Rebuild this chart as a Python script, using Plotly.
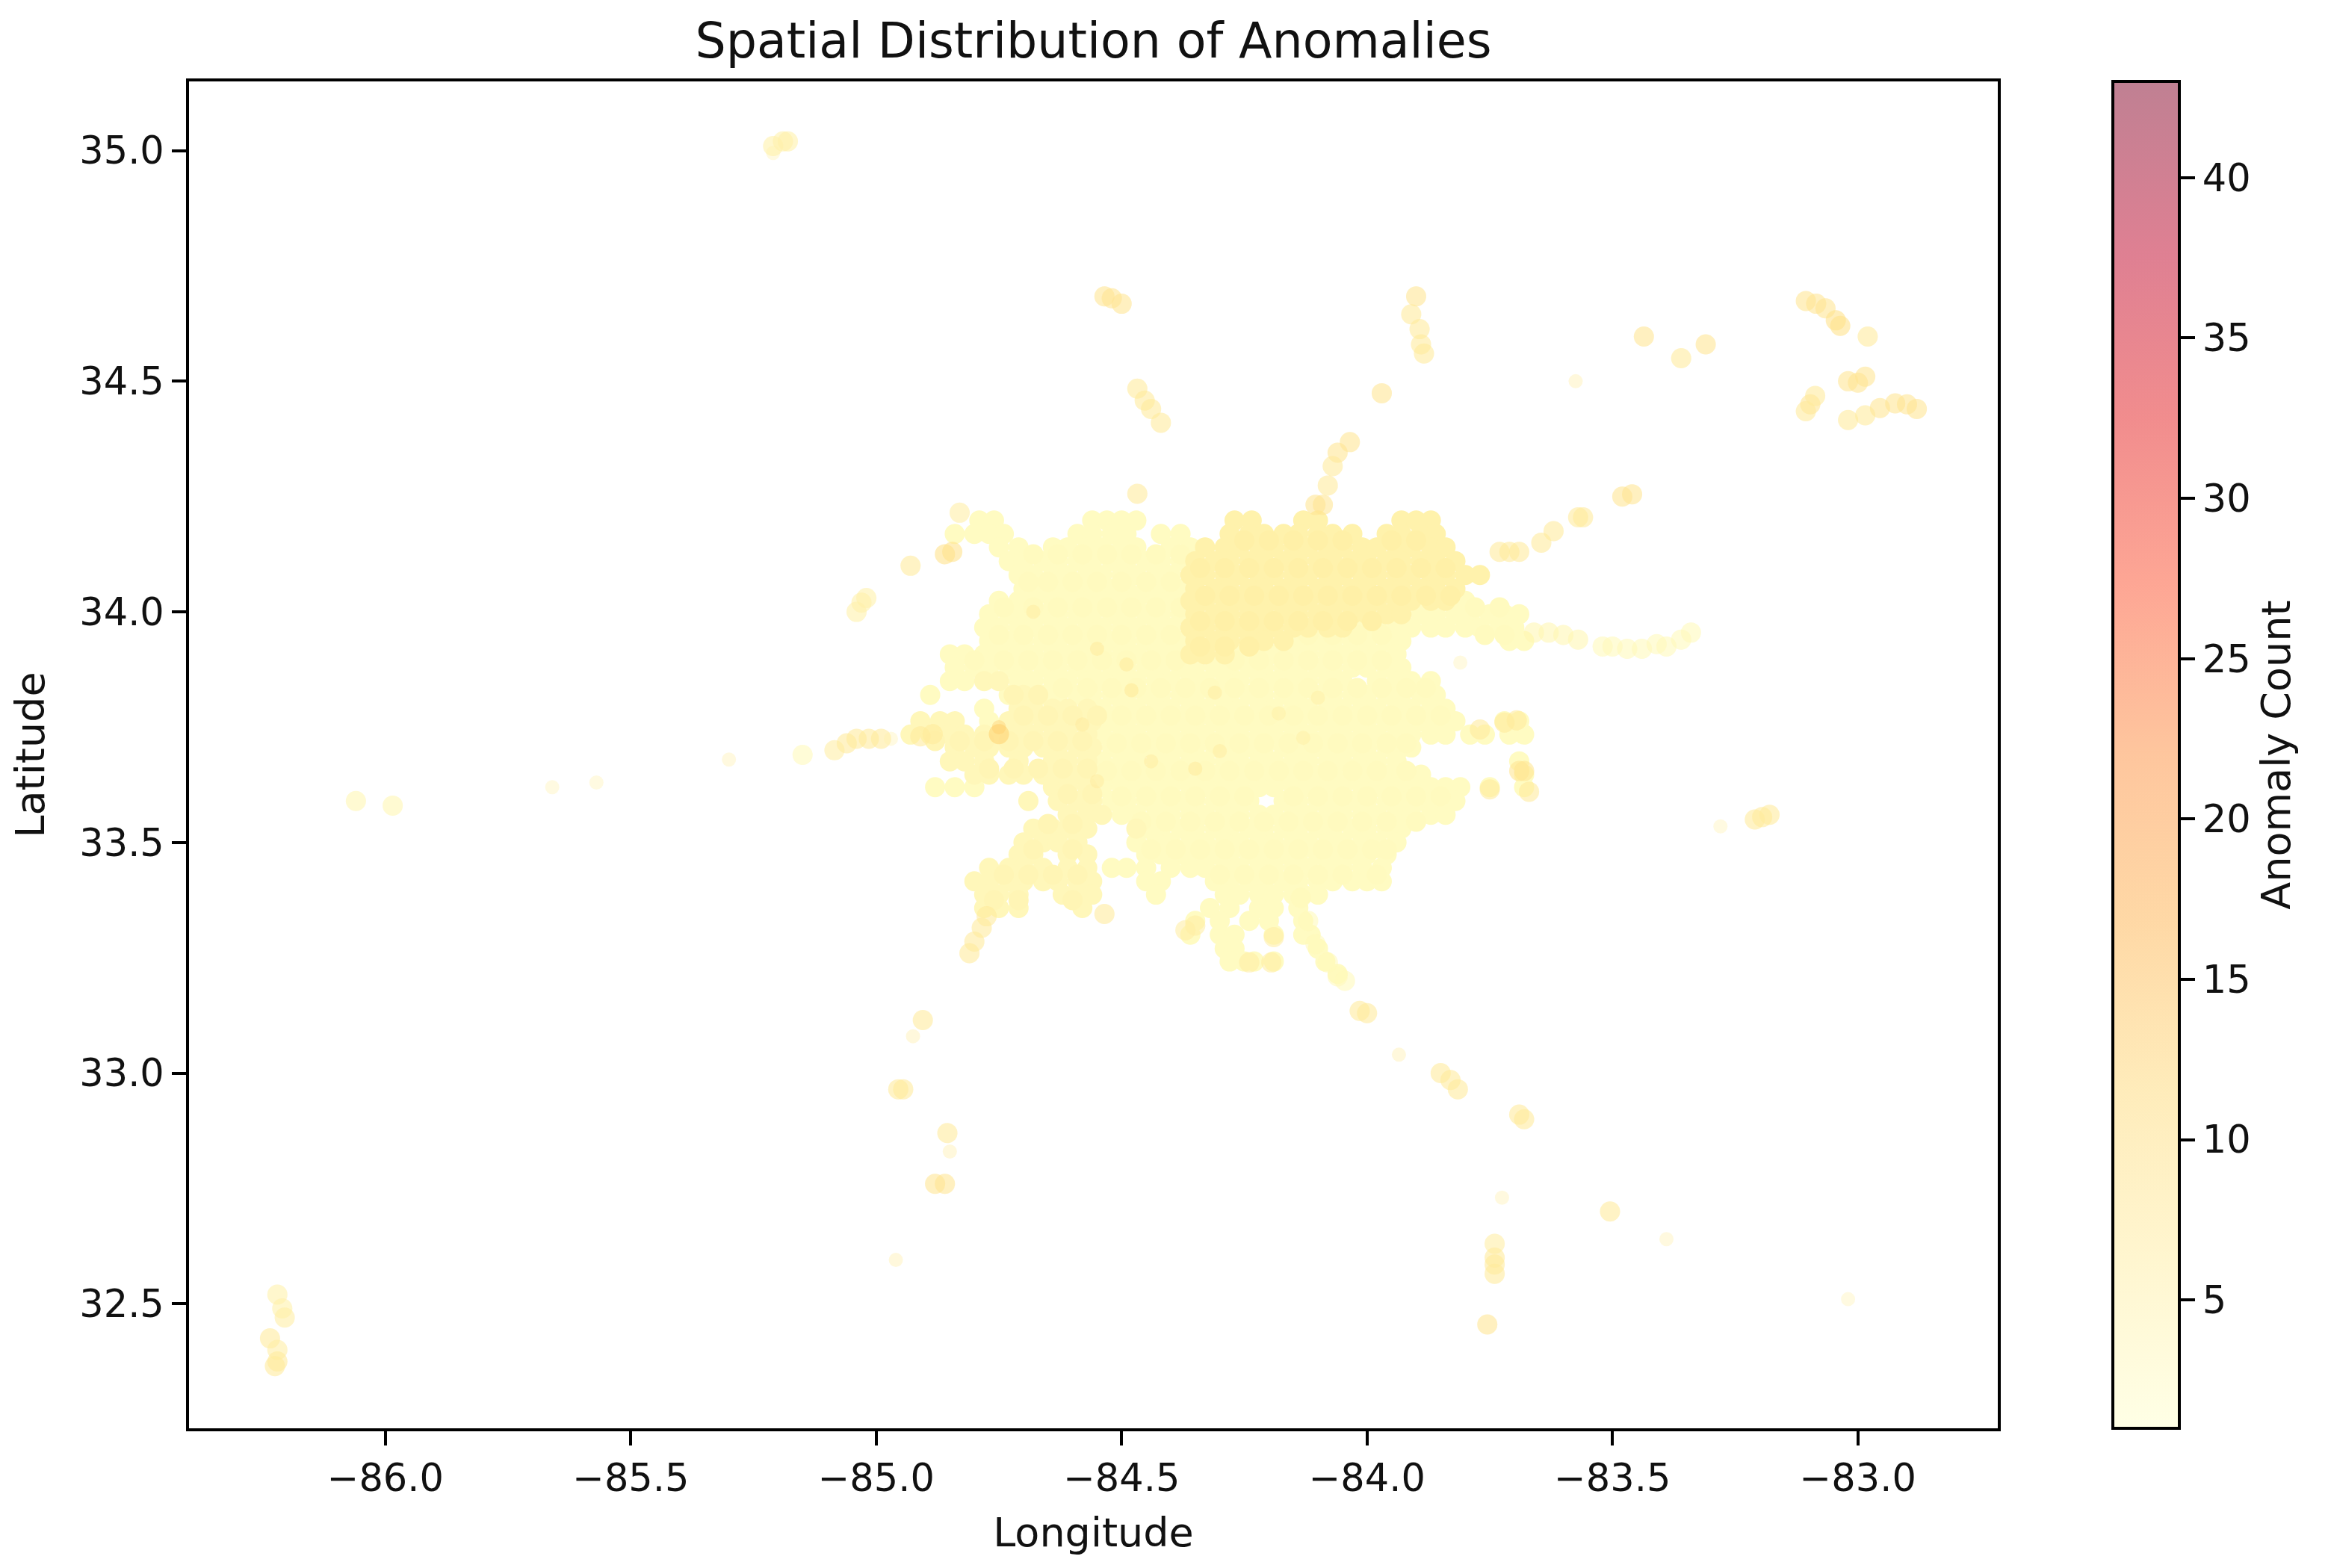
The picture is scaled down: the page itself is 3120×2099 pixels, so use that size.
import plotly.graph_objects as go

# Values: each row is (latitude, [longitudes]).
pale_rows = [
 (34.198, [-84.79,-84.76,-84.56,-84.53,-84.50,-84.47]),
 (34.169, [-84.84,-84.80,-84.77,-84.74,-84.59,-84.56,-84.52,-84.49,-84.42,-84.38]),
 (34.140, [-84.75,-84.71,-84.64,-84.61,-84.57,-84.54,-84.50,-84.47,-84.40,-84.36]),
 (34.110, [-84.73,-84.70,-84.66,-84.63,-84.59,-84.56,-84.52,-84.49,-84.45,-84.42,-84.38]),
 (34.080, [-84.71,-84.68,-84.64,-84.61,-84.57,-84.54,-84.50,-84.47,-84.43,-84.40]),
 (34.050, [-84.70,-84.66,-84.63,-84.59,-84.56,-84.52,-84.49,-84.45,-84.42,-84.38]),
 (34.024, [-84.75,-84.71,-84.68,-84.64,-84.61,-84.57,-84.54,-84.50,-84.47,-84.43,-84.40,-83.80]),
 (33.995, [-84.77,-84.73,-84.70,-84.66,-84.63,-84.59,-84.56,-84.52,-84.49,-84.45,-84.42,-84.38,-83.89,-83.86,-83.82,-83.79,-83.75,-83.72,-83.69]),
 (33.966, [-84.78,-84.75,-84.71,-84.68,-84.64,-84.61,-84.57,-84.54,-84.50,-84.47,-84.43,-84.40,-84.01,-83.98,-83.94,-83.91,-83.87,-83.84,-83.80,-83.77,-83.73,-83.70]),
 (33.937, [-84.77,-84.73,-84.70,-84.66,-84.63,-84.59,-84.56,-84.52,-84.49,-84.45,-84.42,-84.38,-84.14,-84.10,-84.07,-84.03,-84.00,-83.96,-83.93,-83.71,-83.68]),
 (33.908, [-84.85,-84.82,-84.78,-84.75,-84.71,-84.68,-84.64,-84.61,-84.57,-84.54,-84.50,-84.47,-84.43,-84.40,-84.36,-84.26,-84.22,-84.19,-84.15,-84.12,-84.08,-84.05,-84.01,-83.98,-83.94]),
 (33.879, [-84.84,-84.80,-84.77,-84.73,-84.70,-84.66,-84.63,-84.59,-84.56,-84.52,-84.49,-84.45,-84.42,-84.38,-84.35,-84.31,-84.28,-84.24,-84.21,-84.17,-84.14,-84.10,-84.07,-84.03,-84.00,-83.96,-83.93]),
 (33.850, [-84.85,-84.82,-84.71,-84.68,-84.64,-84.61,-84.57,-84.54,-84.50,-84.47,-84.43,-84.40,-84.36,-84.33,-84.29,-84.26,-84.22,-84.19,-84.15,-84.12,-84.08,-84.05,-83.98,-83.94,-83.91,-83.87]),
 (33.820, [-84.89,-84.73,-84.66,-84.63,-84.59,-84.56,-84.52,-84.49,-84.45,-84.42,-84.38,-84.35,-84.31,-84.28,-84.24,-84.21,-84.17,-84.14,-84.10,-84.07,-84.03,-84.00,-83.96,-83.93,-83.89,-83.86]),
 (33.790, [-84.78,-84.54,-84.50,-84.47,-84.43,-84.40,-84.36,-84.33,-84.29,-84.26,-84.22,-84.19,-84.15,-84.12,-84.08,-84.05,-84.01,-83.98,-83.94,-83.91,-83.87,-83.84]),
 (33.763, [-84.77,-84.52,-84.49,-84.45,-84.42,-84.38,-84.35,-84.31,-84.28,-84.24,-84.21,-84.17,-84.14,-84.10,-84.07,-84.03,-84.00,-83.96,-83.93,-83.89,-83.86,-83.82,-83.72,-83.69]),
 (33.734, [-84.54,-84.50,-84.47,-84.43,-84.40,-84.36,-84.33,-84.29,-84.26,-84.22,-84.19,-84.15,-84.12,-84.08,-84.05,-84.01,-83.98,-83.94,-83.91,-83.87,-83.84,-83.79,-83.76,-83.71,-83.68]),
 (33.706, [-84.52,-84.49,-84.45,-84.42,-84.38,-84.35,-84.31,-84.28,-84.24,-84.21,-84.17,-84.14,-84.10,-84.07,-84.03,-84.00,-83.96,-83.93,-83.91]),
 (33.676, [-84.54,-84.50,-84.47,-84.43,-84.40,-84.36,-84.33,-84.29,-84.26,-84.22,-84.19,-84.15,-84.12,-84.08,-84.05,-84.01,-83.98,-83.94,-83.69]),
 (33.647, [-84.56,-84.52,-84.49,-84.45,-84.42,-84.38,-84.35,-84.31,-84.28,-84.24,-84.21,-84.17,-84.14,-84.10,-84.07,-84.03,-84.00,-83.96,-83.93,-83.89,-83.68]),
 (33.620, [-84.88,-84.84,-84.80,-84.54,-84.50,-84.47,-84.43,-84.40,-84.36,-84.33,-84.29,-84.26,-84.22,-84.19,-84.15,-84.12,-84.08,-84.05,-84.01,-83.98,-83.94,-83.91,-83.87,-83.84,-83.81,-83.75,-83.68]),
 (33.590, [-84.52,-84.49,-84.45,-84.42,-84.38,-84.35,-84.31,-84.28,-84.24,-84.17,-84.14,-84.10,-84.07,-84.03,-84.00,-83.96,-83.93,-83.89,-83.86,-83.82]),
 (33.560, [-84.50,-84.47,-84.43,-84.40,-84.36,-84.33,-84.29,-84.26,-84.22,-84.19,-84.15,-84.12,-84.08,-84.05,-84.01,-83.98,-83.94,-83.91,-83.87,-83.84]),
 (33.530, [-84.45,-84.42,-84.38,-84.35,-84.31,-84.28,-84.24,-84.21,-84.17,-84.14,-84.10,-84.07,-84.03,-84.00,-83.96,-83.93]),
 (33.500, [-84.47,-84.43,-84.40,-84.36,-84.33,-84.29,-84.26,-84.22,-84.19,-84.15,-84.12,-84.08,-84.05,-84.01,-83.98,-83.94]),
 (33.474, [-84.45,-84.42,-84.38,-84.35,-84.31,-84.28,-84.24,-84.21,-84.17,-84.14,-84.10,-84.07,-84.03,-84.00,-83.96]),
 (33.445, [-84.52,-84.49,-84.45,-84.40,-84.36,-84.33,-84.29,-84.26,-84.22,-84.19,-84.15,-84.12,-84.08,-84.05,-84.01,-83.97]),
 (33.416, [-84.45,-84.42,-84.31,-84.28,-84.24,-84.21,-84.17,-84.14,-84.10,-84.07,-84.03,-84.00,-83.97]),
 (33.387, [-84.43,-84.29,-84.26,-84.22,-84.19,-84.15,-84.10,-84.13]),
 (33.358, [-84.32,-84.28,-84.22,-84.19,-84.14]),
 (33.330, [-84.35,-84.30,-84.24,-84.20,-84.13]),
 (33.300, [-84.36,-84.30,-84.27,-84.19,-84.13,-84.115]),
 (33.270, [-84.29,-84.27,-84.10]),
 (33.242, [-84.28,-84.25,-84.23,-84.19,-84.085]),
 (33.215, [-84.06]),
]
pale_fill_rows = [
 (34.125, [-84.68,-84.63,-84.58,-84.53,-84.48,-84.43,-84.38]),
 (34.065, [-84.69,-84.65,-84.60,-84.55,-84.50,-84.45,-84.40]),
 (34.010, [-84.74,-84.68,-84.63,-84.58,-84.53,-84.48,-84.43,-84.38,-83.78,-83.73]),
 (33.950, [-84.75,-84.70,-84.65,-84.60,-84.55,-84.50,-84.45,-84.40,-84.12,-84.07,-84.02,-83.97,-83.76,-83.72]),
 (33.895, [-84.80,-84.74,-84.69,-84.64,-84.59,-84.54,-84.49,-84.44,-84.39,-84.27,-84.22,-84.17,-84.12,-84.07,-84.02,-83.97]),
 (33.835, [-84.62,-84.57,-84.52,-84.47,-84.42,-84.37,-84.32,-84.27,-84.22,-84.17,-84.12,-84.07,-84.02,-83.97,-83.92,-83.88]),
 (33.775, [-84.50,-84.45,-84.40,-84.35,-84.30,-84.25,-84.20,-84.15,-84.10,-84.05,-84.00,-83.95,-83.90,-83.85]),
 (33.715, [-84.51,-84.46,-84.41,-84.36,-84.31,-84.26,-84.21,-84.16,-84.11,-84.06,-84.01,-83.96,-83.92]),
 (33.655, [-84.53,-84.48,-84.43,-84.38,-84.33,-84.28,-84.23,-84.18,-84.13,-84.08,-84.03,-83.98,-83.92]),
 (33.600, [-84.50,-84.45,-84.40,-84.35,-84.30,-84.25,-84.15,-84.10,-84.05,-84.00,-83.95,-83.90,-83.85]),
 (33.545, [-84.46,-84.41,-84.36,-84.31,-84.26,-84.21,-84.16,-84.11,-84.06,-84.01,-83.96,-83.90]),
 (33.485, [-84.44,-84.39,-84.34,-84.29,-84.24,-84.19,-84.14,-84.09,-84.04,-83.99,-83.96]),
 (33.430, [-84.30,-84.25,-84.20,-84.15,-84.10,-84.05,-83.98]),
]
mid_rows = [
 (33.850, [-84.78,-84.75]),
 (33.820, [-84.70]),
 (33.790, [-84.71,-84.68,-84.64,-84.61,-84.57]),
 (33.763, [-84.91,-84.87,-84.84,-84.73,-84.70,-84.66,-84.63,-84.59,-84.56]),
 (33.734, [-84.93,-84.89,-84.85,-84.82,-84.78,-84.75,-84.71,-84.68,-84.64,-84.61,-84.57]),
 (33.706, [-84.84,-84.80,-84.77,-84.73,-84.70,-84.66,-84.63,-84.59,-84.56]),
 (33.676, [-84.85,-84.82,-84.78,-84.71,-84.64,-84.61,-84.57]),
 (33.647, [-84.80,-84.77,-84.73,-84.70,-84.66,-84.63,-84.59]),
 (33.620, [-84.64,-84.61,-84.57]),
 (33.590, [-84.69,-84.63,-84.59,-84.56]),
 (33.560, [-84.61,-84.57,-84.54]),
 (33.530, [-84.68,-84.64,-84.61,-84.57,-84.47]),
 (33.500, [-84.70,-84.66,-84.63,-84.59]),
 (33.474, [-84.71,-84.68,-84.61,-84.57]),
 (33.445, [-84.77,-84.73,-84.70,-84.66,-84.61,-84.57]),
 (33.416, [-84.80,-84.77,-84.73,-84.70,-84.66,-84.63,-84.59,-84.56]),
 (33.387, [-84.78,-84.75,-84.71,-84.62,-84.59,-84.56]),
 (33.358, [-84.78,-84.75,-84.71,-84.58]),
]
mid_fill_rows = [
 (33.820, [-84.72,-84.67]),
 (33.775, [-84.70,-84.65,-84.60,-84.55]),
 (33.720, [-84.88,-84.83,-84.78,-84.73,-84.68,-84.63,-84.58]),
 (33.660, [-84.77,-84.72,-84.67,-84.62,-84.57]),
 (33.605, [-84.61,-84.56]),
 (33.540, [-84.65,-84.60]),
 (33.485, [-84.68,-84.60]),
 (33.430, [-84.74,-84.69,-84.64,-84.59]),
 (33.375, [-84.76,-84.71,-84.60]),
]
ne_rows = [
 (34.198, [-84.27,-84.235,-84.13,-84.10,-83.93,-83.90,-83.87]),
 (34.169, [-84.28,-84.24,-84.21,-84.17,-84.14,-84.10,-84.07,-84.03,-83.96,-83.93,-83.89,-83.86]),
 (34.140, [-84.33,-84.29,-84.26,-84.22,-84.19,-84.15,-84.12,-84.08,-84.05,-84.01,-83.98,-83.94,-83.91,-83.87,-83.84]),
 (34.110, [-84.35,-84.31,-84.28,-84.24,-84.21,-84.17,-84.14,-84.10,-84.07,-84.03,-84.00,-83.96,-83.93,-83.89,-83.86,-83.82]),
 (34.080, [-84.36,-84.33,-84.29,-84.26,-84.22,-84.19,-84.15,-84.12,-84.08,-84.05,-84.01,-83.98,-83.94,-83.91,-83.87,-83.84,-83.80,-83.77]),
 (34.050, [-84.35,-84.31,-84.28,-84.24,-84.21,-84.17,-84.14,-84.10,-84.07,-84.03,-84.00,-83.96,-83.93,-83.89,-83.86,-83.82]),
 (34.024, [-84.36,-84.33,-84.29,-84.26,-84.22,-84.19,-84.15,-84.12,-84.08,-84.05,-84.01,-83.98,-83.94,-83.91,-83.87,-83.84]),
 (33.995, [-84.35,-84.31,-84.28,-84.24,-84.21,-84.17,-84.14,-84.10,-84.07,-84.03,-84.00,-83.96,-83.93]),
 (33.966, [-84.36,-84.33,-84.29,-84.26,-84.22,-84.19,-84.15,-84.12,-84.08,-84.05]),
 (33.937, [-84.35,-84.31,-84.28,-84.24,-84.21,-84.17]),
 (33.908, [-84.36,-84.33,-84.29]),
]
ne_fill_rows = [
 (34.155, [-84.25,-84.20,-84.15,-84.10,-84.05,-83.95,-83.90]),
 (34.095, [-84.34,-84.29,-84.24,-84.19,-84.14,-84.09,-84.04,-83.99,-83.94,-83.89,-83.84]),
 (34.035, [-84.33,-84.28,-84.23,-84.18,-84.13,-84.08,-84.03,-83.98,-83.93,-83.88,-83.83]),
 (33.980, [-84.34,-84.29,-84.24,-84.19,-84.14,-84.09,-84.04,-83.99]),
 (33.925, [-84.34,-84.29,-84.24]),
]
outlier_lon = [-85.21,-85.19,-85.18,-84.535,-84.52,-84.50,-84.468,-84.453,-84.44,-84.42,-84.468,-83.90,-83.91,-83.893,-83.89,-83.884,-83.97,-84.035,-84.06,-84.07,-84.08,-84.105,-84.09,-83.436,-83.36,-83.31,
 -83.106,-83.085,-83.066,-83.045,-83.036,-82.98,-83.02,-83.00,-82.985,-83.097,-83.087,-83.106,-83.02,-82.985,-82.955,-82.924,-82.90,-82.88,
 -83.66,-83.63,-83.60,-83.57,-83.73,-83.71,-83.69,-83.645,-83.62,-83.57,-83.56,-83.48,-83.46,
 -85.04,-85.03,-85.02,-84.93,-84.86,-84.845,-84.83,-85.15,-85.085,-85.06,-85.04,-85.015,-84.99,-84.91,-84.885,
 -85.985,-86.06,-83.505,-83.74,-83.74,-83.74,-83.74,-83.755,-83.69,-83.68,-83.85,-83.83,-83.815,-84.015,-84.0,
 -84.86,-84.88,-84.855,-84.955,-84.945,-84.905,-86.22,-86.21,-86.205,-86.235,-86.22,-86.22,-86.225,-83.21,-83.195,-83.18,
 -84.81,-84.80,-84.785,-84.775,-84.535,-84.37,-84.35,-84.19,-84.195,-84.24,-84.135,-84.12,-84.105,-84.08,-84.06,-84.045,-83.68,-83.69,-83.67,-83.75,-83.695,-83.72,-83.77,-84.75]
outlier_lat = [35.01,35.02,35.02,34.684,34.68,34.668,34.484,34.458,34.44,34.41,34.256,34.684,34.645,34.613,34.58,34.56,34.474,34.368,34.345,34.316,34.274,34.232,34.232,34.597,34.55,34.58,
 34.674,34.668,34.658,34.632,34.62,34.597,34.5,34.497,34.51,34.45,34.468,34.435,34.416,34.426,34.442,34.452,34.45,34.44,
 33.955,33.955,33.95,33.94,34.13,34.13,34.13,34.15,34.175,34.205,34.205,34.25,34.255,
 34.0,34.02,34.03,34.10,34.125,34.13,34.215,33.69,33.70,33.715,33.725,33.725,33.725,33.73,33.735,
 33.58,33.59,32.70,32.63,32.60,32.585,32.565,32.455,32.91,32.90,33.0,32.985,32.965,33.135,33.13,
 32.76,32.76,32.87,32.965,32.965,33.115,32.52,32.49,32.47,32.425,32.40,32.375,32.365,33.55,33.555,33.56,
 33.26,33.285,33.315,33.34,33.345,33.31,33.32,33.295,33.24,33.24,33.38,33.33,33.28,33.24,33.21,33.20,33.655,33.655,33.61,33.615,33.765,33.76,33.745,33.735]
outlier_count = [5,5,5,8,8,8,7,7,7,7,7,8,7,7,7,7,8,8,8,7,7,8,8,8,7,8,
 8,8,8,9,9,7,8,8,8,8,7,7,7,7,8,8,8,8,
 4,4,4,4,7,7,7,7,7,7,7,8,8,
 5,5,5,7,9,9,6,3,6,7,7,7,7,7,7,
 4,4,7,6,7,7,7,8,7,7,7,7,7,7,7,
 8,8,7,7,7,7,5,5,6,7,6,7,7,7,7,7,
 7,7,7,7,7,6,6,6,6,6,3,3,3,3,3,3,8,8,7,7,7,7,7,12]
small_lon = [-85.21,-85.66,-85.57,-85.30,-84.97,-83.575,-83.28,-83.02,-83.39,-83.725,-83.935,-84.96,-84.85,-84.925,-83.81]
small_lat = [34.995,33.62,33.63,33.68,33.725,34.50,33.535,32.51,32.64,32.73,33.04,32.595,32.83,33.08,33.89]
small_count = [5,5,5,6,5,7,5,5,6,6,7,7,7,7,5]
east_lon = [-83.52,-83.50,-83.47,-83.44,-83.41,-83.39,-83.36,-83.34]
east_lat = [33.925,33.925,33.92,33.92,33.93,33.925,33.94,33.955]
east_count = [3,3,3,3,3,3,3,3]
spot_lon = [-84.68,-84.55,-84.49,-84.48,-84.31,-84.35,-84.44,-84.18,-84.13,-84.10,-84.30,-84.55,-84.58,-84.75]
spot_lat = [34.0,33.92,33.886,33.83,33.825,33.66,33.676,33.78,33.727,33.814,33.698,33.633,33.756,33.75]
spot_count = [8,9,9,10,8,9,8,7,7,7,8,8,8,14]
# Typical anomaly count in each dense part of the cloud
pale_count, pale_fill_count = 2.2, 2.6
mid_count, mid_fill_count = 3.2, 3.8
ne_count, ne_fill_count = 4.8, 5.4
color_min, color_max = 1, 43
colorbar_ticks = [5, 10, 15, 20, 25, 30, 35, 40]

core_lon, core_lat, core_count = [], [], []
def add_rows(rows, c):
    for la, los in rows:
        for lo in los:
            core_lon.append(lo); core_lat.append(la); core_count.append(c)
add_rows(pale_rows, pale_count)
add_rows(pale_fill_rows, pale_fill_count)
add_rows(mid_rows, mid_count)
add_rows(mid_fill_rows, mid_fill_count)
add_rows(ne_rows, ne_count)
add_rows(ne_fill_rows, ne_fill_count)

# Isolated sites hold several reports, so their dots are drawn twice over
site_lon = outlier_lon + east_lon
site_lat = outlier_lat + east_lat
site_count = outlier_count + east_count
lon = site_lon + site_lon + small_lon + spot_lon
lat = site_lat + site_lat + small_lat + spot_lat
count = site_count + site_count + small_count + spot_count
size = [27] * (2 * len(site_lon)) + [19] * (len(small_lon) + len(spot_lon))

rgb = [(255,255,204),(255,237,160),(254,217,118),(254,178,76),(253,141,60),(252,78,42),(227,26,28),(189,0,38),(128,0,38)]
solid = [[i/8, f"rgb({r},{g},{b})"] for i,(r,g,b) in enumerate(rgb)]
scale = [[i/8, f"rgba({r},{g},{b},0.5)"] for i,(r,g,b) in enumerate(rgb)]
FONT = "DejaVu Sans"
TEXT = "#111111"
W, H = 3104, 2083
L, R, T, B = 245, 2666, 101, 1904
fig = go.Figure()
# The thousands of overlapping half-transparent dots of the cloud add up to a solid colour
fig.add_trace(go.Scatter(x=core_lon, y=core_lat, mode="markers", hoverinfo="skip",
    marker=dict(size=27, color=core_count, colorscale=solid, cmin=color_min, cmax=color_max, line_width=0, showscale=False)))
fig.add_trace(go.Scatter(
    x=lon, y=lat, mode="markers", hoverinfo="skip",
    marker=dict(size=size, color=count, colorscale=scale, cmin=color_min, cmax=color_max, line_width=0,
                colorbar=dict(title=dict(text="Anomaly Count", side="right", font=dict(size=54, family=FONT, color=TEXT)),
                              x=(2820-L)/(R-L), xanchor="left", xpad=0, y=0.5, yanchor="middle", ypad=0,
                              len=1, lenmode="fraction", thickness=89, thicknessmode="pixels",
                              tickvals=colorbar_ticks, ticks="outside", ticklen=19, tickwidth=4, tickcolor="black",
                              ticksuffix="\u00a0",
                              tickfont=dict(size=51, family=FONT, color=TEXT),
                              outlinecolor="black", outlinewidth=4, bgcolor="rgba(0,0,0,0)", borderwidth=0)),
))
axis = dict(showgrid=False, zeroline=False, showline=True, mirror=True, linecolor="black", linewidth=4,
            ticks="outside", ticklen=19, tickwidth=4, tickcolor="black", dtick=0.5, tickformat=".1f",
            tickfont=dict(size=51, family=FONT, color=TEXT))
fig.update_xaxes(axis, range=[-86.4, -82.715], tick0=-86, title=dict(text="Longitude", font=dict(size=54, family=FONT, color=TEXT), standoff=26))
fig.update_yaxes(axis, range=[32.23, 35.15], tick0=32.5, title=dict(text="Latitude", font=dict(size=54, family=FONT, color=TEXT), standoff=30))
fig.update_layout(
    width=W, height=H, autosize=False, showlegend=False,
    margin=dict(l=L, r=W-R, t=T, b=H-B, pad=0), plot_bgcolor="white", paper_bgcolor="white",
    title=dict(text="Spatial Distribution of Anomalies", x=(L+R)/2/W, xanchor="center", y=1-46/H, yanchor="middle",
               font=dict(size=65, family=FONT, color=TEXT)),
)
fig.write_html("out.html")
